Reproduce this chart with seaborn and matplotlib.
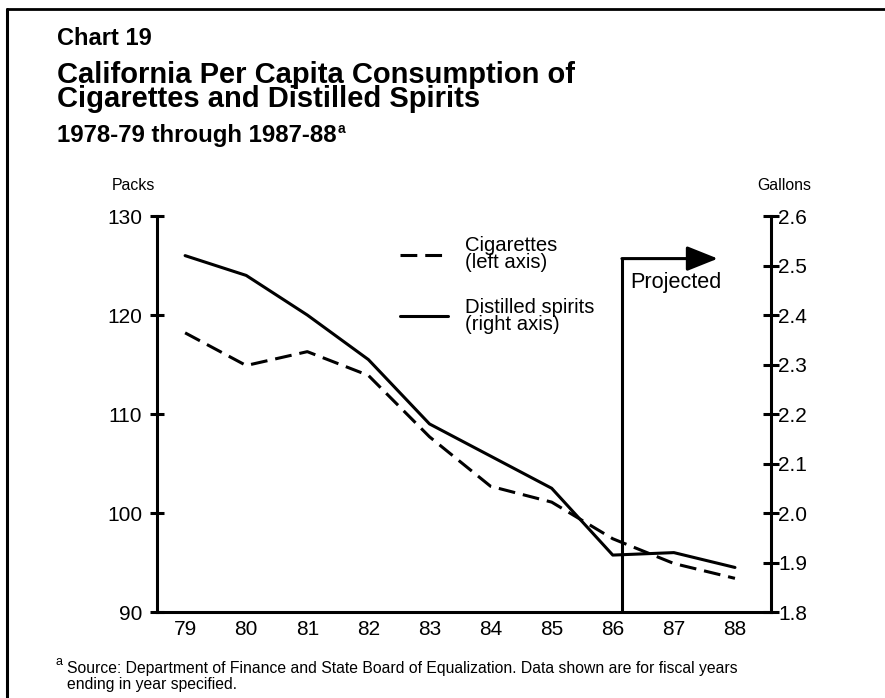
import numpy as np
import pandas as pd
import seaborn as sns
from matplotlib import pyplot as plt
from matplotlib.lines import Line2D

# values (fiscal years ending 1979..1988)
YEARS = [79, 80, 81, 82, 83, 84, 85, 86, 87, 88]
CIGARETTES = [118.2, 114.9, 116.3, 113.9, 107.7, 102.7, 101.1, 97.4, 94.9, 93.4]  # packs
SPIRITS = [2.52, 2.48, 2.40, 2.31, 2.18, 2.115, 2.05, 1.915, 1.92, 1.89]  # gallons

PACK_TICKS = [90, 100, 110, 120, 130]
GALLON_TICKS = [1.8, 1.9, 2.0, 2.1, 2.2, 2.3, 2.4, 2.5, 2.6]

PROJ_X = 86.15
PROJ_TOP = 125.7
PROJ_END = 87.72


def main():
    sns.set_theme(style="white")
    plt.rcParams["font.family"] = ["Liberation Sans", "DejaVu Sans"]
    plt.rcParams["text.color"] = "black"
    plt.rcParams["xtick.color"] = "black"
    plt.rcParams["ytick.color"] = "black"
    plt.rcParams["axes.edgecolor"] = "black"

    df = pd.DataFrame({"year": YEARS, "cigarettes": CIGARETTES, "spirits": SPIRITS})

    fig = plt.figure(figsize=(8.85, 6.98), dpi=100)
    ax = fig.add_axes([0.1774, 0.1232, 0.6938, 0.5673])
    ax2 = ax.twinx()

    sns.lineplot(
        data=df, x="year", y="cigarettes", ax=ax, color="black",
        lw=2.2, linestyle=(0, (5.5, 2.6)), legend=False,
    )
    sns.lineplot(
        data=df, x="year", y="spirits", ax=ax2, color="black",
        lw=2.2, legend=False,
    )

    ax.set_xlim(78.54, 88.59)
    ax.set_ylim(90, 130)
    ax2.set_ylim(1.8, 2.6)
    ax.set_xticks(YEARS)
    ax.set_xticklabels([str(y) for y in YEARS])
    ax.set_yticks(PACK_TICKS)
    ax2.set_yticks(GALLON_TICKS)
    ax2.set_yticklabels([f"{g:.1f}" for g in GALLON_TICKS])
    ax.set_xlabel("")
    ax.set_ylabel("")
    ax2.set_ylabel("")

    for s in ["top", "right"]:
        ax.spines[s].set_visible(False)
    for s in ["top", "left", "bottom"]:
        ax2.spines[s].set_visible(False)
    for sp in [ax.spines["left"], ax.spines["bottom"], ax2.spines["right"]]:
        sp.set_linewidth(2.2)

    ax.tick_params(axis="y", direction="inout", length=9.5, width=2.2, pad=6, labelsize=15)
    ax.tick_params(axis="x", length=0, pad=6, labelsize=15)
    ax2.tick_params(axis="y", direction="inout", length=12, width=2.2, pad=-1, labelsize=15)

    # projected marker
    ax.plot([PROJ_X, PROJ_X], [90, PROJ_TOP], color="black", lw=2.2,
            solid_capstyle="projecting")
    ax.annotate(
        "", xy=(PROJ_END, PROJ_TOP), xytext=(PROJ_X, PROJ_TOP),
        arrowprops=dict(arrowstyle="-|>,head_length=0.95,head_width=0.38",
                        lw=2.2, color="black", shrinkA=0, shrinkB=0,
                        mutation_scale=20),
    )
    ax.text(86.28, 123.3, "Projected", ha="left", va="center", fontsize=15.6)

    leg = ax2.legend(
        handles=[ax.lines[0], ax2.lines[0]],
        labels=["Cigarettes\n(left axis)", "Distilled spirits\n(right axis)"],
        loc="upper left", bbox_to_anchor=(400 / 885, 1 - 236 / 698),
        bbox_transform=fig.transFigure, frameon=False, borderpad=0,
        borderaxespad=0, handlelength=2.37, handletextpad=0.84,
        labelspacing=1.25, prop={"size": 14.6},
    )
    for t in leg.get_texts():
        t.set_linespacing(0.88)

    # axis unit labels
    fig.text(133 / 885, 1 - 185 / 698, "Packs", ha="center", va="center",
             fontsize=11.4)
    fig.text(784 / 885, 1 - 185 / 698, "Gallons", ha="center", va="center",
             fontsize=11.4)

    # titles
    fig.text(57 / 885, 1 - 45 / 698, "Chart 19", fontsize=17, weight="bold",
             va="baseline")
    fig.text(57 / 885, 1 - 107 / 698,
             "California Per Capita Consumption of\nCigarettes and Distilled Spirits",
             fontsize=21, weight="bold", va="baseline", linespacing=0.8)
    sub = fig.text(57 / 885, 1 - 142 / 698, "1978-79 through 1987-88",
                   fontsize=17.3, weight="bold", va="baseline")
    fig.canvas.draw()
    bb = sub.get_window_extent()
    fig.text(bb.x1 / 885 + 0.001, 1 - 133 / 698, "a", fontsize=10,
             weight="bold", va="baseline")

    # footnote
    fig.text(55 / 885, 1 - 662 / 698, "a", fontsize=9, va="center")
    fig.text(67 / 885, 1 - 668 / 698,
             "Source: Department of Finance and State Board of Equalization. "
             "Data shown are for fiscal years",
             fontsize=11.3, va="center")
    fig.text(67 / 885, 1 - 684 / 698, "ending in year specified.",
             fontsize=11.3, va="center")

    # page border (left and top)
    fig.add_artist(Line2D([7 / 885, 7 / 885], [0, 1 - 9 / 698], color="black",
                          lw=2.2, transform=fig.transFigure))
    fig.add_artist(Line2D([7 / 885, 1], [1 - 9 / 698, 1 - 9 / 698], color="black",
                          lw=2.0, transform=fig.transFigure))

    fig.savefig("out.png", dpi=100, facecolor="white")


if __name__ == "__main__":
    main()
